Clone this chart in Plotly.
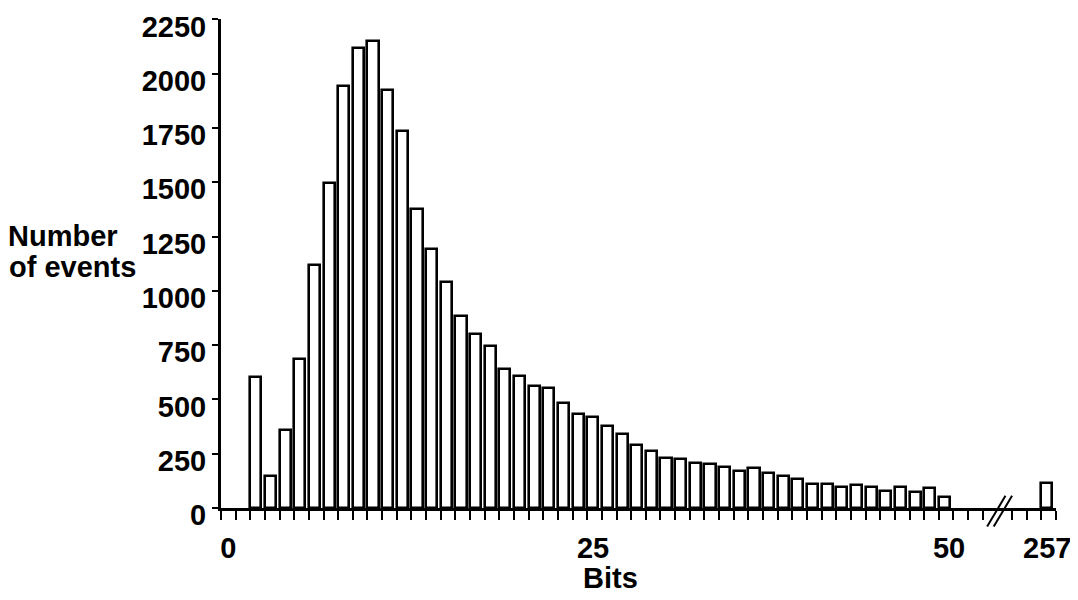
import plotly.graph_objects as go

# ---- data ----
bits = list(range(2, 50)) + [257]
events = [605, 148, 360, 686, 1118, 1497, 1942, 2118, 2150, 1926,
          1737, 1379, 1195, 1042, 883, 800, 745, 638, 609, 561,
          554, 482, 432, 417, 377, 340, 290, 262, 232, 224,
          206, 204, 187, 169, 185, 163, 149, 133, 109, 110,
          95, 106, 95, 80, 95, 75, 90, 52, 117]
y_tick_values = list(range(0, 2251, 250))
x_label_bits = [0, 25, 50, 257]
x_label_text = ["0", "25", "50", "257"]

# ---- axis mapping with a break between 53 and 255 ----
LAST_BEFORE_BREAK = 53
POS_OF_257 = 56
X_MAX = 57


def pos(b):
    return b if b < LAST_BEFORE_BREAK else b - 257 + POS_OF_257


BAR_W = 0.76
LABEL_NUDGE = {0: 0.5, 25: 0.4, 50: -0.3, 257: 0.4}
FONT = dict(family="Liberation Sans, Arial, sans-serif", size=29, color="black", weight="bold")

bar_x = [pos(b) + BAR_W / 2 for b in bits]
tick_pos = list(range(0, 53)) + list(range(54, X_MAX + 1))
label_pos = [pos(b) + LABEL_NUDGE[b] for b in x_label_bits]

fig = go.Figure()
fig.add_trace(go.Bar(
    x=bar_x, y=events, width=BAR_W,
    marker=dict(color="white", line=dict(color="black", width=2.6)),
    hoverinfo="skip", showlegend=False,
))
fig.add_trace(go.Scatter(
    x=[0], y=[0], xaxis="x2", mode="markers",
    marker=dict(opacity=0), hoverinfo="skip", showlegend=False,
))

fig.update_layout(
    width=1070, height=592,
    margin=dict(l=213, r=22, t=11, b=92, autoexpand=False),
    paper_bgcolor="white", plot_bgcolor="white",
    font=FONT,
    bargap=0,
    xaxis=dict(
        range=[0, X_MAX], tickvals=tick_pos, ticks="outside", ticklen=9,
        tickwidth=2, tickcolor="black", showticklabels=False,
        showline=True, linewidth=3, linecolor="black",
        showgrid=False, zeroline=False, fixedrange=True, automargin=False,
    ),
    xaxis2=dict(
        overlaying="x", anchor="y", side="bottom", range=[0, X_MAX],
        tickvals=label_pos, ticktext=x_label_text,
        ticks="outside", ticklen=14, tickcolor="rgba(0,0,0,0)",
        showline=False, showgrid=False, zeroline=False,
        tickfont=FONT, fixedrange=True, automargin=False,
        ticklabeloverflow="allow",
    ),
    yaxis=dict(
        range=[0, 2252], tickvals=y_tick_values, ticks="outside",
        ticklen=6, tickwidth=2, tickcolor="black",
        showline=True, linewidth=3, linecolor="black",
        showgrid=False, zeroline=False, tickfont=FONT,
        ticklabelshift=7, fixedrange=True, automargin=False,
        ticklabeloverflow="allow",
    ),
)

# axis break marks "//" (paper coordinates so they are not clipped)
for x0 in (52.3, 52.75):
    fig.add_shape(type="line", xref="paper", yref="paper",
                  x0=x0 / X_MAX, x1=(x0 + 1.25) / X_MAX, y0=-0.038, y1=0.025,
                  line=dict(color="black", width=2))

fig.add_annotation(text="Bits", xref="x", yref="paper", x=26.6, y=-0.143,
                   showarrow=False, font=FONT, xanchor="center", yanchor="middle")
fig.add_annotation(text="Number", xref="paper", yref="paper",
                   x=-0.258, y=0.556, showarrow=False, font=FONT,
                   xanchor="left", yanchor="middle", align="left")
fig.add_annotation(text="of events", xref="paper", yref="paper",
                   x=-0.256, y=0.493, showarrow=False, font=FONT,
                   xanchor="left", yanchor="middle", align="left")

fig.write_html("out.html")
